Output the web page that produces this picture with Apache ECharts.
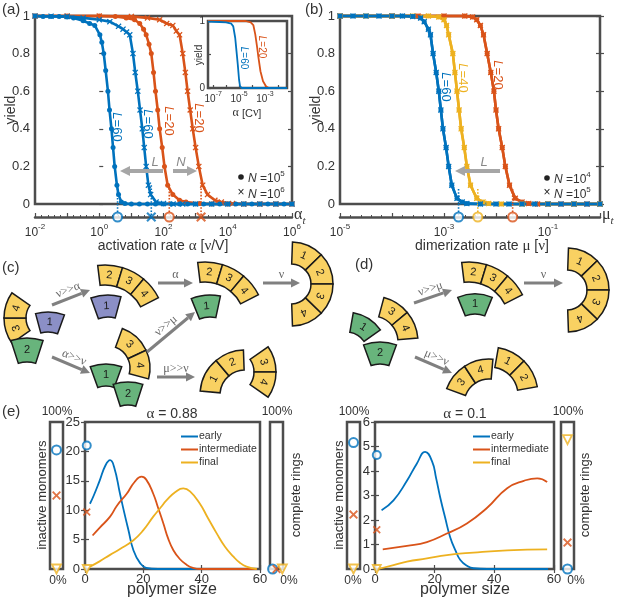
<!DOCTYPE html>
<html>
<head>
<meta charset="utf-8">
<script src="https://cdn.jsdelivr.net/npm/echarts@6/dist/echarts.min.js"></script>
<style>
html, body { margin: 0; padding: 0; background: #fff; }
#chart { width: 617px; height: 598px; }
</style>
</head>
<body>
<div id="chart"></div>
<script>
// colours and fonts
var BLUE = '#0072BD', ORANGE = '#D95319', YELLOW = '#EDB120';
var FRAME = '#4d4d4d', TXT = '#333333', ARROW = '#808080';
var YEL = '#f9d162', GREEN = '#68b47c', PURPLE = '#8b8fc6';
var FONT = '"Liberation Sans", Arial, sans-serif';
var SERIF = '"Liberation Serif", "DejaVu Serif", serif';
var CROSS = 'path://M0,1.5L1.5,0L5,3.5L8.5,0L10,1.5L6.5,5L10,8.5L8.5,10L5,6.5L1.5,10L0,8.5L3.5,5Z';

// (a) yield vs log10(activation rate)
var aTicks = [-2, 0, 2, 4, 6];
var aBlueN5 = [[-2,1],[-1.75,0.998],[-1.5,0.998],[-1.25,0.997],[-1,0.995],[-0.8,0.99],[-0.5,0.975],[-0.3,0.96],[-0.14,0.95],[0.02,0.9],[0.08,0.86],[0.14,0.8],[0.2,0.71],[0.27,0.6],[0.32,0.5],[0.38,0.4],[0.43,0.3],[0.48,0.2],[0.55,0.1],[0.6,0.05],[0.69,0.01],[0.8,0.002],[1,0],[1.25,0],[1.5,0],[1.75,0],[2,0],[2.25,0],[2.5,0],[2.75,0],[3,0],[3.25,0],[3.5,0],[3.75,0],[4,0],[4.25,0],[4.5,0],[4.75,0],[5,0],[5.25,0],[5.5,0],[5.75,0],[6,0]];
var aBlueN6 = [[-2,1],[-1.5,0.999],[-1,0.998],[-0.5,0.99],[0,0.98],[0.33,0.97],[0.6,0.945],[0.74,0.93],[0.85,0.915],[0.95,0.9],[1.05,0.8],[1.12,0.7],[1.2,0.6],[1.27,0.5],[1.34,0.4],[1.4,0.3],[1.46,0.2],[1.53,0.1],[1.6,0.05],[1.77,0.01],[2,0.002],[2.3,0],[2.6,0],[3,0],[3.5,0],[4,0],[4.5,0],[5,0],[5.5,0],[6,0]];
var aOrangeN5 = [[-2,1],[-1,1],[0,1],[0.5,0.998],[0.84,0.99],[1.1,0.98],[1.26,0.96],[1.38,0.93],[1.46,0.9],[1.55,0.85],[1.62,0.8],[1.69,0.7],[1.75,0.6],[1.82,0.5],[1.88,0.4],[1.96,0.3],[2.03,0.2],[2.13,0.1],[2.29,0.05],[2.5,0.02],[2.7,0.01],[3.12,0.002],[3.5,0],[4,0],[4.5,0],[5,0],[5.5,0],[6,0]];
var aOrangeN6 = [[-2,1],[-1,1],[0,1],[1,0.998],[1.5,0.99],[1.88,0.98],[2.1,0.96],[2.29,0.95],[2.4,0.92],[2.5,0.9],[2.6,0.8],[2.68,0.7],[2.75,0.6],[2.83,0.5],[2.91,0.4],[3.0,0.3],[3.1,0.2],[3.22,0.1],[3.37,0.05],[3.6,0.02],[3.8,0.01],[4.15,0.002],[4.5,0],[5,0],[5.5,0],[6,0]];
var aThreshN5 = [0.57, 2.18];   // blue, orange
var aThreshN6 = [1.62, 3.17];

// (a) inset, log10(alpha [C nu])
var insetTicks = [-7, -5, -3];
var insetTickMarks = [-7, -6, -5, -4, -3, -2];
var insetBlue = [[-7.4,0.99],[-6.5,0.985],[-6,0.98],[-5.6,0.96],[-5.45,0.92],[-5.3,0.75],[-5.2,0.55],[-5.1,0.35],[-5.0,0.12],[-4.93,0.03],[-4.8,0],[-1.3,0]];
var insetOrange = [[-7.4,1],[-4.5,1],[-4.1,0.98],[-3.9,0.94],[-3.75,0.8],[-3.6,0.6],[-3.5,0.45],[-3.35,0.25],[-3.15,0.1],[-2.9,0.02],[-2.7,0],[-1.3,0]];

// (b) yield vs log10(dimerization rate)
var bTicks = [-5, -3, -1];
var bBlue = [[-5,1],[-4.75,1],[-4.5,1],[-4.25,1],[-4,1],[-3.8,1],[-3.6,0.998],[-3.45,0.99],[-3.38,0.97],[-3.3,0.93],[-3.26,0.9],[-3.21,0.8],[-3.15,0.7],[-3.1,0.6],[-3.06,0.5],[-3.02,0.4],[-2.96,0.3],[-2.91,0.2],[-2.85,0.1],[-2.75,0.03],[-2.65,0.01],[-2.56,0.002],[-2.3,0],[-2,0],[-1.75,0],[-1.5,0],[-1.25,0],[-1,0],[-0.75,0],[-0.5,0],[-0.25,0],[0,0]];
var bYellow = [[-5,1],[-4.5,1],[-4,1],[-3.6,1],[-3.3,1],[-3.1,0.995],[-3.0,0.98],[-2.95,0.95],[-2.91,0.9],[-2.83,0.8],[-2.79,0.7],[-2.75,0.6],[-2.71,0.5],[-2.67,0.4],[-2.61,0.3],[-2.56,0.2],[-2.49,0.1],[-2.37,0.03],[-2.25,0.01],[-2.14,0.002],[-1.9,0],[-1.5,0],[-1,0],[-0.5,0],[0,0]];
var bOrange = [[-5,1],[-4,1],[-3.5,1],[-3,1],[-2.6,1],[-2.45,0.995],[-2.37,0.98],[-2.3,0.95],[-2.24,0.9],[-2.17,0.8],[-2.1,0.7],[-2.04,0.6],[-2.0,0.5],[-1.95,0.4],[-1.88,0.3],[-1.82,0.2],[-1.74,0.1],[-1.63,0.03],[-1.5,0.01],[-1.37,0.002],[-1.2,0],[-1,0],[-0.75,0],[-0.5,0],[-0.25,0],[0,0]];
var bThresh = [-2.72, -2.35, -1.68];  // blue, yellow, orange

// (e) polymer size distributions
var eLeftEarly = [[1.7,11.1],[3,12.5],[5,15],[7,17.6],[8.6,18.5],[10,17.3],[12,12.8],[13.5,9.5],[14.9,6.6],[16.6,3.2],[18.9,1.0],[21,0.2],[25,0],[30,0],[40,0],[50,0],[59,0]];
var eLeftInter = [[2.6,5.7],[5,7],[8.6,8.9],[11,10.8],[14.3,12.8],[17,14.8],[19.4,15.7],[21,15.2],[23.4,12.8],[25,10.5],[26.9,7.7],[28.5,5.2],[30.3,3.2],[32.5,1.7],[34.9,0.7],[37,0.2],[39.4,0],[45,0],[59,0]];
var eLeftFinal = [[1.7,0.4],[5,1.3],[8.6,2.4],[12,3.4],[16.6,4.9],[20,6.6],[23.4,8.9],[26,10.5],[28,11.7],[31,13.1],[33.7,13.7],[36,13.2],[39.4,11.1],[42,8.8],[45.1,6.1],[48,3.8],[50.9,2.1],[53,1.1],[55.4,0.4],[58.9,0]];
var eRightEarly = [[2.2,2.4],[6.2,2.8],[10.7,3.6],[14,4.3],[16.8,4.78],[19.1,4.4],[20.5,3.7],[21.9,2.9],[23.5,2.1],[25.2,1.3],[27,0.75],[28.6,0.37],[31,0.12],[33,0.03],[37.6,0],[45,0],[58,0]];
var eRightInter = [[2.6,0.8],[10.7,0.94],[17.4,1.1],[24.1,1.45],[30.8,1.86],[37.6,2.5],[44.3,3.3],[49.9,3.6],[54.4,3.7],[57.7,3.55]];
var eRightFinal = [[1.1,0],[6.2,0.16],[10.7,0.3],[17.4,0.43],[24.1,0.57],[33,0.67],[44.3,0.76],[57.7,0.8]];
// markers: [early, intermediate, final]
var eLeftZero = [21, 9.7, 0];
var eLeftInactive = [81, 50, 0];
var eLeftComplete = [0, 0, 0];
var eRightZero = [4.65, 1.6, 0];
var eRightInactive = [86, 37, 0];
var eRightComplete = [0, 18, 88];

var chart = echarts.init(document.getElementById('chart'));

function vAxis(grid, min, max, o) {
    var a = { type: 'value', gridIndex: grid, min: min, max: max, splitLine: { show: false },
        axisLine: { show: false }, axisTick: { show: false }, axisLabel: { show: false } };
    for (var k in o) a[k] = o[k];
    return a;
}
function ticks(len, vals) {
    var t = { show: true, inside: true, length: len, lineStyle: { color: FRAME, width: 1.2 } };
    if (vals) t.customValues = vals;
    return t;
}
function labels(size, margin, vals) {
    var l = { show: true, color: TXT, fontSize: size, fontFamily: FONT, margin: margin };
    if (vals) l.customValues = vals;
    return l;
}
function pow10(v) { return '{b|10}{s|' + v + '}'; }
var supRich = {
    b: { fontSize: 12, color: TXT, fontFamily: FONT, lineHeight: 16, verticalAlign: 'bottom' },
    s: { fontSize: 8, color: TXT, fontFamily: FONT, lineHeight: 8, verticalAlign: 'top' }
};
var supRichSmall = {
    b: { fontSize: 10, color: TXT, fontFamily: FONT, lineHeight: 13, verticalAlign: 'bottom' },
    s: { fontSize: 7, color: TXT, fontFamily: FONT, lineHeight: 7, verticalAlign: 'top' }
};
function logAxis(grid, min, max, vals) {
    var l = labels(12, 6, vals);
    l.formatter = pow10; l.rich = supRich;
    return vAxis(grid, min, max, { interval: 1,
        axisLine: { show: true, lineStyle: { color: FRAME, width: 2.5 } },
        axisTick: { show: true, inside: true, length: 4, lineStyle: { color: FRAME, width: 1.2 } },
        minorTick: { show: true, splitNumber: 5, length: 2, lineStyle: { color: FRAME } },
        axisLabel: l });
}

function box(left, top, width, height, bg) {
    var g = { left: left, top: top, width: width, height: height, show: true, borderColor: FRAME, borderWidth: 2.5 };
    if (bg) g.backgroundColor = bg;
    return g;
}
var grids = [
    box(35, 16, 257, 188),                                   // 0 (a)
    { left: 35, top: 204, width: 257, height: 13 },         // 1 (a) alpha_t axis
    box(208, 21, 79, 67, '#fff'),                            // 2 inset
    box(340, 16, 260, 188),                                  // 3 (b)
    { left: 340, top: 204, width: 260, height: 13 },        // 4 (b) mu_t axis
    box(85, 422, 175, 147),                                  // 5 (e) left
    box(50, 422, 13, 147),                                   // 6
    box(270, 422, 13, 147),                                  // 7
    box(375, 422, 179, 147),                                 // 8 (e) right
    box(347, 422, 13, 147),                                  // 9
    box(561, 422, 13, 147)                                   // 10
];

var insetLab = labels(10, 3, insetTicks);
insetLab.formatter = pow10; insetLab.rich = supRichSmall;

var xAxes = [
    vAxis(0, -2, 6),
    logAxis(1, -2, 6, aTicks),
    vAxis(2, -7.4, -1.3, { axisTick: ticks(3, insetTickMarks), axisLabel: insetLab }),
    vAxis(3, -5, 0),
    logAxis(4, -5, 0, bTicks),
    vAxis(5, 0, 60, { interval: 20, axisTick: ticks(4), axisLabel: labels(13, 4) }),
    vAxis(5, 0, 60, { position: 'top', interval: 20, axisTick: ticks(4) }),
    vAxis(6, 0, 1),
    vAxis(7, 0, 1),
    vAxis(8, 0, 60, { interval: 20, axisTick: ticks(4), axisLabel: labels(13, 4) }),
    vAxis(8, 0, 60, { position: 'top', interval: 20, axisTick: ticks(4) }),
    vAxis(9, 0, 1),
    vAxis(10, 0, 1)
];
var yAxes = [
    vAxis(0, 0, 1, { interval: 0.2, axisTick: ticks(4), axisLabel: labels(13, 5) }),
    vAxis(0, 0, 1, { position: 'right', interval: 0.2, axisTick: ticks(4) }),
    vAxis(1, 0, 1),
    vAxis(2, 0, 1, { axisTick: ticks(3, [0, 0.5, 1]), axisLabel: labels(10, 3, [0, 1]) }),
    vAxis(3, 0, 1, { interval: 0.2, axisTick: ticks(4), axisLabel: labels(13, 5) }),
    vAxis(3, 0, 1, { position: 'right', interval: 0.2, axisTick: ticks(4) }),
    vAxis(4, 0, 1),
    vAxis(5, 0, 25, { interval: 5, axisTick: ticks(4), axisLabel: labels(13, 5) }),
    vAxis(5, 0, 25, { position: 'right', interval: 5, axisTick: ticks(4) }),
    vAxis(6, 0, 100),
    vAxis(7, 0, 100),
    vAxis(8, 0, 6, { interval: 1, axisTick: ticks(4), axisLabel: labels(13, 5) }),
    vAxis(8, 0, 6, { position: 'right', interval: 1, axisTick: ticks(4) }),
    vAxis(9, 0, 100),
    vAxis(10, 0, 100)
];

var series = [];
function curve(xi, yi, data, color, sym, size, width) {
    return { type: 'line', xAxisIndex: xi, yAxisIndex: yi, data: data, symbol: sym, symbolSize: size,
        showAllSymbol: true, clip: false, silent: true, animation: false,
        lineStyle: { color: color, width: width || 2.6 }, itemStyle: { color: color } };
}
function dotted(xi, yi, x, y0, color) {
    return { type: 'line', xAxisIndex: xi, yAxisIndex: yi, data: [[x, y0], [x, 0]], symbol: 'none',
        clip: false, silent: true, animation: false, lineStyle: { color: color, width: 1.6, type: 'dotted' } };
}
function mark(xi, yi, pts, color, kind, size) {
    var s = { type: 'scatter', xAxisIndex: xi, yAxisIndex: yi, data: pts, clip: false, silent: true,
        animation: false, symbolSize: size, z: 5 };
    if (kind === 'o') { s.symbol = 'circle'; s.itemStyle = { color: '#fff', borderColor: color, borderWidth: 2 }; }
    else if (kind === 'v') { s.symbol = 'triangle'; s.symbolRotate = 180; s.itemStyle = { color: '#fff', borderColor: color, borderWidth: 1.8 }; }
    else { s.symbol = CROSS; s.itemStyle = { color: color }; }
    return s;
}

// (a)
series.push(curve(0, 0, aOrangeN6, ORANGE, CROSS, 6));
series.push(curve(0, 0, aOrangeN5, ORANGE, 'circle', 5));
series.push(curve(0, 0, aBlueN6, BLUE, CROSS, 6));
series.push(curve(0, 0, aBlueN5, BLUE, 'circle', 5));
var aCols = [BLUE, ORANGE];
for (var i = 0; i < 2; i++) {
    series.push(dotted(0, 0, aThreshN5[i], 0.1, aCols[i]));
    series.push(dotted(0, 0, aThreshN6[i], 0.1, aCols[i]));
    series.push(dotted(1, 2, aThreshN5[i], 1, aCols[i]));
    series.push(dotted(1, 2, aThreshN6[i], 1, aCols[i]));
    series.push(mark(1, 2, [[aThreshN5[i], 0]], aCols[i], 'o', 9));
    series.push(mark(1, 2, [[aThreshN6[i], 0]], aCols[i], 'x', 10));
}
series.push(curve(2, 3, insetOrange, ORANGE, 'none', 0, 1.8));
series.push(curve(2, 3, insetBlue, BLUE, 'none', 0, 1.8));

// (b)
var bSets = [[bOrange, ORANGE], [bYellow, YELLOW], [bBlue, BLUE]];
bSets.forEach(function (s) {
    series.push(curve(3, 4, s[0], s[1], 'circle', 5));
    series.push(curve(3, 4, s[0], s[1], CROSS, 6));
});
var bCols = [BLUE, YELLOW, ORANGE];
bThresh.forEach(function (x, i) {
    series.push(dotted(3, 4, x, 0.08, bCols[i]));
    series.push(dotted(4, 6, x, 1, bCols[i]));
    series.push(mark(4, 6, [[x, 0]], bCols[i], 'o', 9));
});

// (e)
function eLine(xi, yi, name, data, color) {
    return { type: 'line', name: name, xAxisIndex: xi, yAxisIndex: yi, data: data, smooth: true,
        symbol: 'none', silent: true, animation: false, color: color, lineStyle: { color: color, width: 1.8 } };
}
var eCols = [BLUE, ORANGE, YELLOW], eKinds = ['o', 'x', 'v'], eNames = ['early', 'intermediate', 'final'];
[[5, 7, eLeftEarly, eLeftInter, eLeftFinal], [9, 11, eRightEarly, eRightInter, eRightFinal]].forEach(function (p) {
    for (var j = 0; j < 3; j++) series.push(eLine(p[0], p[1], eNames[j], p[2 + j], eCols[j]));
});
var spread = [0.2, 0.5, 0.95];
for (var j = 0; j < 3; j++) {
    series.push(mark(5, 7, [[0.6, eLeftZero[j]]], eCols[j], eKinds[j], 8));
    series.push(mark(7, 9, [[0.5, eLeftInactive[j]]], eCols[j], eKinds[j], 9));
    series.push(mark(8, 10, [[spread[j], eLeftComplete[j]]], eCols[j], eKinds[j], 9));
    series.push(mark(9, 11, [[0.6, eRightZero[j]]], eCols[j], eKinds[j], 8));
    series.push(mark(11, 13, [[0.5, eRightInactive[j]]], eCols[j], eKinds[j], 9));
    series.push(mark(12, 14, [[0.5, eRightComplete[j]]], eCols[j], eKinds[j], 9));
}

// ---- graphic texts and schematics ----
var g = [];
function txt(x, y, s, size, style, rot) {
    var st = { text: s, fontSize: size, fill: TXT, fontFamily: FONT, align: 'center', verticalAlign: 'middle' };
    for (var k in style) st[k] = style[k];
    return { type: 'text', x: x, y: y, rotation: rot || 0, silent: true, style: st, z: 20 };
}
function richText(color, size) {
    return {
        n: { fill: color, fontSize: size, fontFamily: FONT, lineHeight: size + 3, verticalAlign: 'bottom' },
        i: { fill: color, fontSize: size, fontFamily: FONT, fontStyle: 'italic', lineHeight: size + 3, verticalAlign: 'bottom' },
        g: { fill: color, fontSize: size + 1, fontFamily: SERIF, lineHeight: size + 3, verticalAlign: 'bottom' },
        s: { fill: color, fontSize: Math.round(size * 0.65), fontFamily: FONT, lineHeight: Math.round(size * 0.65), verticalAlign: 'top' },
        t: { fill: color, fontSize: Math.round(size * 0.7), fontFamily: SERIF, fontStyle: 'italic', lineHeight: size + 3, verticalAlign: 'bottom', padding: [0, 0, -4, 0] }
    };
}
function arrow(x1, y1, x2, y2, color, w, head) {
    var a = Math.atan2(y2 - y1, x2 - x1), h = head || 9, hw = h * 0.5;
    var bx = x2 - h * Math.cos(a), by = y2 - h * Math.sin(a);
    g.push({ type: 'line', silent: true, z: 20, shape: { x1: x1, y1: y1, x2: bx, y2: by }, style: { stroke: color, lineWidth: w } });
    g.push({ type: 'polygon', silent: true, z: 20, shape: { points: [[x2, y2],
        [bx - hw * Math.sin(a), by + hw * Math.cos(a)], [bx + hw * Math.sin(a), by - hw * Math.cos(a)]] },
        style: { fill: color } });
}
function arrowTag(x1, y1, x2, y2, s) {
    var a = Math.atan2(y2 - y1, x2 - x1);
    var mx = (x1 + x2) / 2 + 8 * Math.sin(a), my = (y1 + y2) / 2 - 8 * Math.cos(a);
    g.push(txt(mx, my, s, 12, { fill: '#666', fontFamily: SERIF }, -a));
}
function piece(cx, cy, r0, r, a0, a1, color, label) {
    var d = Math.PI / 180, am = (a0 + a1) / 2 * d, rm = (r0 + r) / 2;
    g.push({ type: 'sector', silent: true, z: 15,
        shape: { cx: cx, cy: cy, r0: r0, r: r, startAngle: a0 * d, endAngle: a1 * d, clockwise: true },
        style: { fill: color, stroke: '#1a1a1a', lineWidth: 1.5 } });
    g.push(txt(cx + rm * Math.cos(am), cy + rm * Math.sin(am), label, 11, { fill: '#1a1a1a' }, -(am + Math.PI / 2)));
}
function arc(cx, cy, r0, r, bounds, labelsList) {
    for (var k = 0; k < labelsList.length; k++) piece(cx, cy, r0, r, bounds[k], bounds[k + 1], YEL, labelsList[k]);
}

// panel letters
g.push(txt(2, 10, '(a)', 15, { align: 'left' }));
g.push(txt(305, 10, '(b)', 15, { align: 'left' }));
g.push(txt(2, 268, '(c)', 15, { align: 'left' }));
g.push(txt(355, 265, '(d)', 15, { align: 'left' }));
g.push(txt(2, 412, '(e)', 15, { align: 'left' }));

// (a) texts
g.push(txt(11, 110, 'yield', 14, {}, Math.PI / 2));
g.push(txt(163, 245, '{n|activation rate }{g|α}{n| [}{g|ν}{n|/V]}', 14, { rich: richText(TXT, 14) }));
g.push(txt(294, 214, '{g|α}{t|t}', 15, { align: 'left', rich: richText(TXT, 15) }));
g.push(txt(118, 127, '{i|L}{n|=60}', 13, { rich: richText(BLUE, 13) }, -Math.PI / 2));
g.push(txt(149, 124, '{i|L}{n|=60}', 13, { rich: richText(BLUE, 13) }, -Math.PI / 2));
g.push(txt(170, 121, '{i|L}{n|=20}', 13, { rich: richText(ORANGE, 13) }, -Math.PI / 2));
g.push(txt(200, 118, '{i|L}{n|=20}', 13, { rich: richText(ORANGE, 13) }, -Math.PI / 2));
arrow(163, 171, 120, 171, '#a6a6a6', 4, 10);
arrow(173, 171, 197, 171, '#a6a6a6', 4, 10);
g.push(txt(155, 162, 'L', 13, { fill: '#888', fontStyle: 'italic' }));
g.push(txt(181, 162, 'N', 13, { fill: '#888', fontStyle: 'italic' }));
g.push({ type: 'circle', silent: true, z: 20, shape: { cx: 241, cy: 177, r: 2.8 }, style: { fill: '#222' } });
g.push(txt(241, 193, '×', 12, { fill: '#222' }));
g.push(txt(248, 177, '{i|N}{n| =10}{s|5}', 12, { align: 'left', rich: richText(TXT, 12) }));
g.push(txt(248, 193, '{i|N}{n| =10}{s|6}', 12, { align: 'left', rich: richText(TXT, 12) }));
// inset texts
g.push(txt(199, 55, 'yield', 10, {}, Math.PI / 2));
g.push(txt(247, 112, '{g|α}{n| [C}{g|ν}{n|]}', 11, { rich: richText(TXT, 11) }));
g.push(txt(245, 58, '{i|L}{n|=60}', 10, { rich: richText(BLUE, 10) }, -Math.PI / 2));
g.push(txt(263, 47, '{i|L}{n|=20}', 10, { rich: richText(ORANGE, 10) }, -Math.PI / 2));

// (b) texts
g.push(txt(316, 110, 'yield', 14, {}, Math.PI / 2));
g.push(txt(482, 245, '{n|dimerization rate }{g|μ}{n| [}{g|ν}{n|]}', 14, { rich: richText(TXT, 14) }));
g.push(txt(602, 214, '{g|μ}{t|t}', 15, { align: 'left', rich: richText(TXT, 15) }));
g.push(txt(447, 87, '{i|L}{n|=60}', 13, { rich: richText(BLUE, 13) }, -Math.PI / 2));
g.push(txt(464, 78, '{i|L}{n|=40}', 13, { rich: richText(YELLOW, 13) }, -Math.PI / 2));
g.push(txt(499, 75, '{i|L}{n|=20}', 13, { rich: richText(ORANGE, 13) }, -Math.PI / 2));
arrow(500, 171, 455, 171, '#a6a6a6', 4, 10);
g.push(txt(484, 162, 'L', 13, { fill: '#888', fontStyle: 'italic' }));
g.push({ type: 'circle', silent: true, z: 20, shape: { cx: 547, cy: 178, r: 2.8 }, style: { fill: '#222' } });
g.push(txt(547, 193, '×', 12, { fill: '#222' }));
g.push(txt(554, 178, '{i|N}{n| =10}{s|4}', 12, { align: 'left', rich: richText(TXT, 12) }));
g.push(txt(554, 193, '{i|N}{n| =10}{s|5}', 12, { align: 'left', rich: richText(TXT, 12) }));

// (c) schematic
arc(48, 318, 22, 44, [145, 180, 215], ['3', '4']);
piece(48, 360, 28, 48, -105, -70, PURPLE, '1');
piece(27, 390, 28, 52, -108, -72, GREEN, '2');
arrow(52, 305, 90, 290, ARROW, 3); arrowTag(52, 305, 90, 290, 'ν>>α');
arrow(52, 357, 90, 373, ARROW, 3); arrowTag(52, 357, 90, 373, 'α>>ν');
arc(105, 325, 40, 60, [-97, -73, -50, -27], ['2', '3', '4']);
piece(108, 345, 28, 50, -110, -75, PURPLE, '1');
arrow(158, 283, 193, 283, ARROW, 3); arrowTag(158, 283, 193, 283, 'α');
arc(205, 322, 40, 60, [-97, -73, -50, -27], ['2', '3', '4']);
piece(210, 345, 28, 50, -112, -78, GREEN, '1');
arrow(263, 283, 300, 283, ARROW, 3); arrowTag(263, 283, 300, 283, 'ν');
arc(291, 284, 20, 42, [-88, -44, 0, 44, 88], ['1', '2', '3', '4']);
arc(108, 368, 22, 42, [-70, -25, 15], ['3', '4']);
piece(106, 410, 24, 46, -110, -70, GREEN, '1');
piece(128, 430, 25, 48, -108, -72, GREEN, '2');
arrow(147, 352, 195, 312, ARROW, 3); arrowTag(147, 352, 195, 312, 'ν>>μ');
arrow(157, 377, 195, 377, ARROW, 3); arrowTag(157, 377, 195, 377, 'μ>>ν');
arc(245, 395, 25, 45, [185, 230, 268], ['1', '2']);
arc(232, 372, 22, 44, [-35, 0, 35], ['3', '4']);

// (d) schematic
arc(372, 342, 26, 46, [-75, -40, -5], ['3', '4']);
piece(346, 354, 22, 42, -80, -35, GREEN, '1');
piece(380, 390, 26, 48, -110, -70, GREEN, '2');
arrow(414, 303, 452, 290, ARROW, 3); arrowTag(414, 303, 452, 290, 'ν>>μ');
arrow(415, 357, 452, 373, ARROW, 3); arrowTag(415, 357, 452, 373, 'μ>>ν');
arc(469, 322, 40, 60, [-97, -73, -50, -27], ['2', '3', '4']);
piece(475, 340, 26, 46, -112, -68, GREEN, '1');
arrow(524, 283, 563, 283, ARROW, 3); arrowTag(524, 283, 563, 283, 'ν');
arc(567, 290, 20, 42, [-88, -44, 0, 44, 88], ['1', '2', '3', '4']);
arc(489, 404, 25, 45, [200, 237, 275], ['3', '4']);
arc(490, 395, 28, 48, [-80, -45, -10], ['1', '2']);

// (e) texts
g.push(txt(172, 413, '{g|α}{n| = 0.88}', 14, { rich: richText(TXT, 14) }));
g.push(txt(465, 413, '{g|α}{n| = 0.1}', 14, { rich: richText(TXT, 14) }));
g.push(txt(172, 590, 'polymer size', 16));
g.push(txt(465, 590, 'polymer size', 16));
[[57, 42, 277, 296], [354, 339, 568, 585]].forEach(function (p) {
    g.push(txt(p[0], 412, '100%', 12));
    g.push(txt(p[2], 412, '100%', 12));
    g.push(txt(p[1], 495, 'inactive monomers', 13, {}, Math.PI / 2));
    g.push(txt(p[3], 495, 'complete rings', 13, {}, Math.PI / 2));
});
g.push(txt(58, 581, '0%', 12));
g.push(txt(289, 581, '0%', 12));
g.push(txt(353, 581, '0%', 12));
g.push(txt(576, 581, '0%', 12));

var legendStyle = { orient: 'vertical', icon: 'rect', itemWidth: 17, itemHeight: 2, itemGap: 0,
    data: eNames, selectedMode: false, textStyle: { fontSize: 10.5, color: TXT, fontFamily: FONT, lineHeight: 13, padding: [0, 0, 0, -4] } };
var legends = [
    Object.assign({ left: 176, top: 425 }, legendStyle),
    Object.assign({ left: 468, top: 425 }, legendStyle)
];

chart.setOption({
    animation: false,
    backgroundColor: '#fff',
    textStyle: { fontFamily: FONT },
    grid: grids,
    xAxis: xAxes,
    yAxis: yAxes,
    legend: legends,
    series: series,
    graphic: { elements: g }
});
</script>
</body>
</html>
